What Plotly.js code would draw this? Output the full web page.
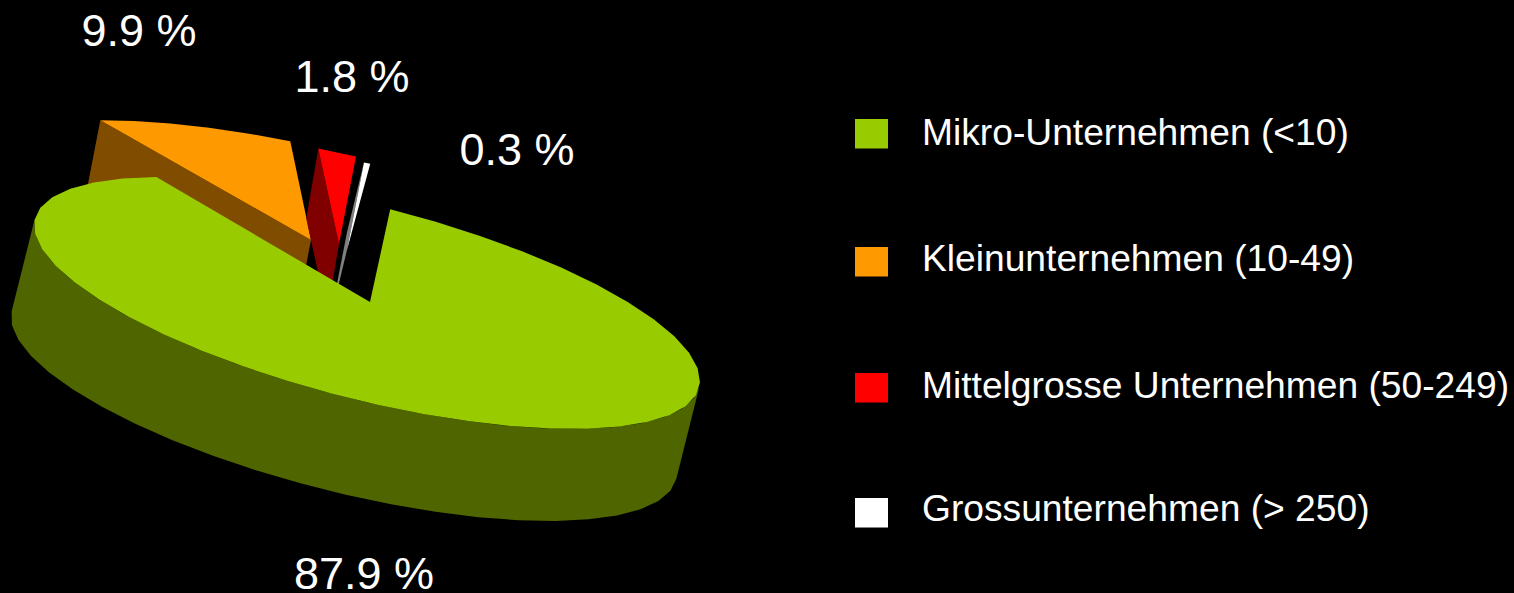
<!DOCTYPE html>
<html>
<head>
<meta charset="utf-8">
<script src="https://cdn.plot.ly/plotly-3.0.1.min.js"></script>
<style>html,body{margin:0;padding:0;background:#000;overflow:hidden}#c{width:1514px;height:593px}</style>
</head>
<body>
<div id="c"></div>
<script>
// Data
const categories = ['Mikro-Unternehmen (<10)', 'Kleinunternehmen (10-49)', 'Mittelgrosse Unternehmen (50-249)', 'Grossunternehmen (> 250)'];
const shares = [87.9, 9.9, 1.8, 0.3];
const topColors = ['#99cc00', '#ff9900', '#ff0000', '#ffffff'];
const sideColors = ['#4f6600', '#804d00', '#800000', '#808080'];

// Projection of the tilted disc (pixel space of the hidden axes)
const W = 1514, H = 593;
const C = {x: 367, y: 303}, RX = 333, RY = 126, PHASE = 52, START = -86;
const apexOffset = [[3, -1], [-56, -63], [-28, -59], [-20, -53]];
const depth = [[-23, 92], [-14, 72], [-12, 70], [-17, 70]];
const flatten = [1, 0.95, 0.92, 0.92];
const FACET = 8;
const rad = d => d * Math.PI / 180;
const pointOn = (t, i) => {
  const a = apexOffset[i], bx = i === 0 ? 0 : a[0], by = i === 0 ? 0 : a[1];
  return [C.x + bx + RX * Math.cos(rad(t)), C.y + by + flatten[i] * RY * Math.cos(rad(t - PHASE))];
};
const apexOf = i => [C.x + apexOffset[i][0], C.y + apexOffset[i][1]];

function arc(a, b) {
  const pts = [], n = Math.max(1, Math.ceil(Math.abs(b - a) / FACET));
  for (let i = 0; i <= n; i++) pts.push(a + (b - a) * i / n);
  return pts;
}
function poly(points, color, name) {
  return {type: 'scatter', mode: 'lines', x: points.map(p => p[0]), y: points.map(p => p[1]),
    fill: 'toself', fillcolor: color, line: {width: 0, color: color}, hoverinfo: 'skip', name: name, showlegend: false};
}

// Slice angles from the shares
const total = shares.reduce((p, q) => p + q, 0);
const bounds = [];
let ang = START;
shares.forEach(s => { const a = ang; ang += s * 360 / total; bounds.push([a, ang]); });

const traces = [];
// exploded slices (back), then the big slice on top
[1, 2, 3].forEach(i => {
  const d = depth[i], [a, b] = bounds[i];
  const apex = apexOf(i);
  const startP = pointOn(a, i);
  traces.push(poly([startP, apex, [apex[0] + d[0], apex[1] + d[1]], [startP[0] + d[0], startP[1] + d[1]]], sideColors[i], categories[i] + ' wall'));
  traces.push(poly([apex].concat(arc(a, b).map(t => pointOn(t, i))), topColors[i], categories[i]));
});
{
  const d = depth[0], [a, b] = bounds[0];
  const wallTop = arc(3.6, 183.6).map(t => pointOn(t, 0));
  const wallBot = wallTop.map(p => [p[0] + d[0], p[1] + d[1]]).reverse();
  traces.push(poly(wallTop.concat(wallBot), sideColors[0], categories[0] + ' wall'));
  traces.push(poly([apexOf(0)].concat(arc(a, b).map(t => pointOn(t, 0))), topColors[0], categories[0]));
}

// value labels
const labelX = [364, 139, 352, 517], labelY = [578, 35, 81, 154];
traces.push({type: 'scatter', mode: 'text', x: labelX, y: labelY,
  text: shares.map(v => v.toFixed(1) + ' %'), textposition: 'middle center', cliponaxis: false,
  textfont: {family: 'Liberation Sans, Arial, sans-serif', size: 45, color: '#ffffff'}, hoverinfo: 'skip', showlegend: false});

// legend
const legendTextY = [132, 258, 385, 508];
const swatchTop = [119, 247, 373, 498];
const shapes = categories.map((c, i) => ({type: 'rect', xref: 'x', yref: 'y', x0: 855, x1: 888, y0: swatchTop[i], y1: swatchTop[i] + 29.5,
  fillcolor: topColors[i], line: {width: 0}}));
const annotations = categories.map((c, i) => ({xref: 'x', yref: 'y', x: 920, y: legendTextY[i], text: c.replace('<', '&lt;'), showarrow: false,
  xanchor: 'left', yanchor: 'middle', align: 'left', font: {family: 'Liberation Sans, Arial, sans-serif', size: 37.2, color: '#ffffff'}}));

Plotly.newPlot('c', traces, {
  width: W, height: H, margin: {l: 0, r: 0, t: 0, b: 0},
  paper_bgcolor: '#000000', plot_bgcolor: '#000000', showlegend: false,
  xaxis: {range: [0, W], visible: false, fixedrange: true},
  yaxis: {range: [H, 0], visible: false, fixedrange: true},
  shapes, annotations
}, {displayModeBar: false, staticPlot: true});
</script>
</body>
</html>
